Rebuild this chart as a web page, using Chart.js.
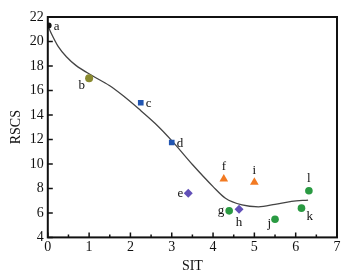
<!DOCTYPE html>
<html>
<head>
<meta charset="utf-8">
<script src="https://cdn.jsdelivr.net/npm/chart.js@4"></script>
<style>
  html, body { margin: 0; padding: 0; background: #fff; }
  #wrap { width: 348px; height: 277px; }
</style>
</head>
<body>
<div id="wrap"><canvas id="c"></canvas></div>
<script>
const pointNames = ['a', 'b', 'c', 'd', 'e', 'f', 'g', 'h', 'i', 'j', 'k', 'l'];
const sitValues = [0.02, 1.0, 2.25, 3.0, 3.4, 4.26, 4.39, 4.63, 5.0, 5.5, 6.14, 6.32];
const rscsValues = [21.3, 17.0, 15.0, 11.75, 7.6, 8.77, 6.17, 6.3, 8.5, 5.48, 6.39, 7.81];

// fitted curve
const fitX = [0, 0.1, 0.25, 0.45, 0.68, 1.08, 1.49, 1.81, 2.2, 2.6, 3.0, 3.5, 4.0, 4.3, 4.7, 5.1, 5.5, 5.9, 6.3];
const fitY = [21.3, 20.55, 19.6, 18.75, 18.05, 17.2, 16.4, 15.6, 14.5, 13.3, 11.9, 9.95, 8.15, 7.2, 6.65, 6.5, 6.7, 6.95, 7.05];

const xTicks = [0, 1, 2, 3, 4, 5, 6, 7];
const yTicks = [4, 6, 8, 10, 12, 14, 16, 18, 20, 22];

const groups = [
    { idx: [0], style: 'circle', color: '#111111', r: 3 },
    { idx: [1], style: 'circle', color: '#8a8a30', r: 4 },
    { idx: [2, 3], style: 'rect', color: '#2256b2', r: 4 },
    { idx: [4, 7], style: 'rectRot', color: '#6250b8', r: 4.5 },
    { idx: [5, 8], style: 'triangle', color: '#f27a22', r: 5 },
    { idx: [6, 9, 10, 11], style: 'circle', color: '#2a9a42', r: 3.8 }
];

// label offsets per point [dx, dy, align]
const labelPos = {
    a: [5, 1, 'left'], b: [-4, 7, 'right'], c: [5, 1, 'left'], d: [5, 1, 'left'],
    e: [-5, 0, 'right'], f: [0, -12, 'center'], g: [-5, 0, 'right'], h: [0, 13, 'center'],
    i: [0, -12, 'center'], j: [-4, 4, 'right'], k: [5, 8, 'left'], l: [0, -12, 'center']
};

const datasets = groups.map(g => ({
    type: 'scatter',
    data: g.idx.map(i => ({ x: sitValues[i], y: rscsValues[i], name: pointNames[i] })),
    pointStyle: g.style,
    pointRadius: g.r,
    pointHoverRadius: g.r,
    backgroundColor: g.color,
    borderColor: g.color,
    borderWidth: 0
}));

datasets.push({
    type: 'line',
    data: fitX.map((x, i) => ({ x: x, y: fitY[i] })),
    borderColor: '#444444',
    borderWidth: 1.3,
    pointRadius: 0,
    fill: false,
    cubicInterpolationMode: 'monotone'
});

const frame = {
    id: 'frame',
    afterDraw(chart) {
        const ctx = chart.ctx;
        const a = chart.chartArea;
        const xs = chart.scales.x, ys = chart.scales.y;
        ctx.save();
        ctx.strokeStyle = '#111';
        ctx.lineWidth = 2;
        ctx.strokeRect(a.left, a.top, a.right - a.left, a.bottom - a.top);
        ctx.lineWidth = 1.5;
        ctx.beginPath();
        for (let v = 0; v <= 7; v += 0.5) {
            const px = xs.getPixelForValue(v);
            const len = Number.isInteger(v) ? 5 : 3;
            ctx.moveTo(px, a.bottom);
            ctx.lineTo(px, a.bottom - len);
        }
        yTicks.forEach(v => {
            const py = ys.getPixelForValue(v);
            ctx.moveTo(a.left, py);
            ctx.lineTo(a.left + 5, py);
        });
        ctx.stroke();
        // point labels
        ctx.fillStyle = '#111';
        ctx.font = '13px "Liberation Serif"';
        ctx.textBaseline = 'middle';
        pointNames.forEach((n, i) => {
            const p = labelPos[n];
            ctx.textAlign = p[2];
            ctx.fillText(n, xs.getPixelForValue(sitValues[i]) + p[0], ys.getPixelForValue(rscsValues[i]) + p[1]);
        });
        ctx.restore();
    }
};

new Chart(document.getElementById('c'), {
    data: { datasets: datasets },
    options: {
        responsive: true,
        maintainAspectRatio: false,
        animation: false,
        layout: { padding: { top: 17, right: 11, left: 3, bottom: 0 } },
        plugins: { legend: { display: false }, tooltip: { enabled: false } },
        scales: {
            x: {
                type: 'linear',
                min: 0, max: 7,
                afterBuildTicks: s => { s.ticks = xTicks.map(v => ({ value: v })); },
                grid: { display: false, drawTicks: false, tickLength: 0 },
                border: { display: false },
                ticks: { color: '#111', font: { family: 'Liberation Serif', size: 14 }, padding: 2 },
                title: { display: true, text: 'SIT', color: '#111', font: { family: 'Liberation Serif', size: 14 }, padding: { top: 0, bottom: 2 } }
            },
            y: {
                type: 'linear',
                min: 4, max: 22,
                afterBuildTicks: s => { s.ticks = yTicks.map(v => ({ value: v })); },
                grid: { display: false, drawTicks: false, tickLength: 0 },
                border: { display: false },
                ticks: { color: '#111', font: { family: 'Liberation Serif', size: 14 }, padding: 4 },
                title: { display: true, text: 'RSCS', color: '#111', font: { family: 'Liberation Serif', size: 14 }, padding: { top: 5, bottom: 1 } }
            }
        }
    },
    plugins: [frame]
});
</script>
</body>
</html>
